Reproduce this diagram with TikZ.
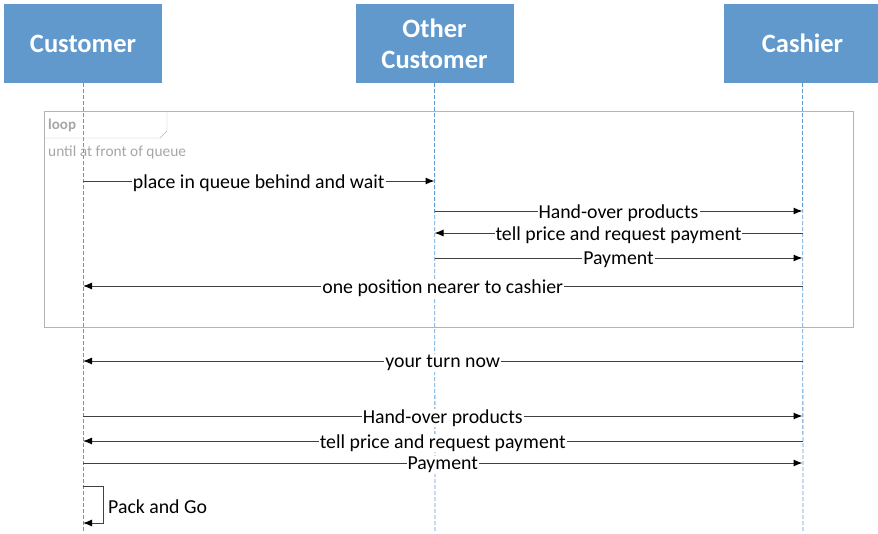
\documentclass[tikz,border=0pt]{standalone}
\usepackage{fontspec}
\setmainfont{Carlito}
\usetikzlibrary{arrows.meta}
\definecolor{headblue}{RGB}{97,153,204}
\definecolor{lifeblue}{RGB}{91,155,213}
\definecolor{framegray}{RGB}{180,180,180}
\definecolor{notegray}{RGB}{166,166,166}
\definecolor{msggray}{RGB}{64,64,64}
\tikzset{
  head/.style={fill=headblue, minimum width=158pt, minimum height=79pt, inner sep=0pt,
    text=white, align=center, font=\fontsize{26.5}{31}\selectfont\bfseries},
  lifeline/.style={lifeblue, dash pattern=on 4pt off 2pt, line width=0.8pt},
  msg/.style={msggray, line width=1pt, -{Latex[length=9pt,width=7pt,black]}},
  lbl/.style={fill=white, text=black, inner sep=1pt, yshift=-2pt, font=\fontsize{19.8}{22}\selectfont},
  note/.style={text=notegray, inner sep=0pt, anchor=base west},
}
\begin{document}
\begin{tikzpicture}[x=1pt,y=-1pt]
   \useasboundingbox (0,0) rectangle (878,533);
   % lifeline heads
   \node[head] (cust)  at (83,43.5)  {Customer};
   \node[head] (other) at (434.5,43.5) {Other\\Customer};
   \node[head] (cash)  at (802.5,43.5) {Cashier};
   \coordinate (custend)  at (83,533);
   \coordinate (otherend) at (435,533);
   \coordinate (cashend)  at (803,533);
   \draw[lifeline] (cust.south) -- (custend);
   \draw[lifeline] (other.south) -- (otherend);
   \draw[lifeline] (cash.south) -- (cashend);
   % loop frame
   \draw[framegray] (44,111) rectangle (853,327);
   \draw[framegray] (44,138) -- (160,138) -- (167,131) -- (167,111);
   \node[note, font=\fontsize{15}{17}\selectfont\bfseries] (looptag) at (48,129) {loop};
   \node[note, font=\fontsize{15.4}{17}\selectfont] (loopcond) at (48,156) {until at front of queue};
   % messages inside loop
   \draw[msg] (cust.south |- 0,181) -- node[lbl] {place in queue behind and wait} (other.south |- 0,181);
   \draw[msg] (other.south |- 0,211) -- node[lbl] {Hand-over products} (cash.south |- 0,211);
   \draw[msg] (cash.south |- 0,233) -- node[lbl] {tell price and request payment} (other.south |- 0,233);
   \draw[msg] (other.south |- 0,258) -- node[lbl] {Payment} (cash.south |- 0,258);
   \draw[msg] (cash.south |- 0,286) -- node[lbl] {one position nearer to cashier} (cust.south |- 0,286);
   % messages after loop
   \draw[msg] (cash.south |- 0,361) -- node[lbl] {your turn now} (cust.south |- 0,361);
   \draw[msg] (cust.south |- 0,416) -- node[lbl] {Hand-over products} (cash.south |- 0,416);
   \draw[msg] (cash.south |- 0,441) -- node[lbl] {tell price and request payment} (cust.south |- 0,441);
   \draw[msg] (cust.south |- 0,463) -- node[lbl] {Payment} (cash.south |- 0,463);
   % self message
   \draw[msg] (cust.south |- 0,486) -- ++(20,0) -- ++(0,37) -- ++(-20,0);
   \node[lbl, anchor=west, yshift=2pt] (packgo) at (107,507) {Pack and Go};
\end{tikzpicture}
\end{document}
